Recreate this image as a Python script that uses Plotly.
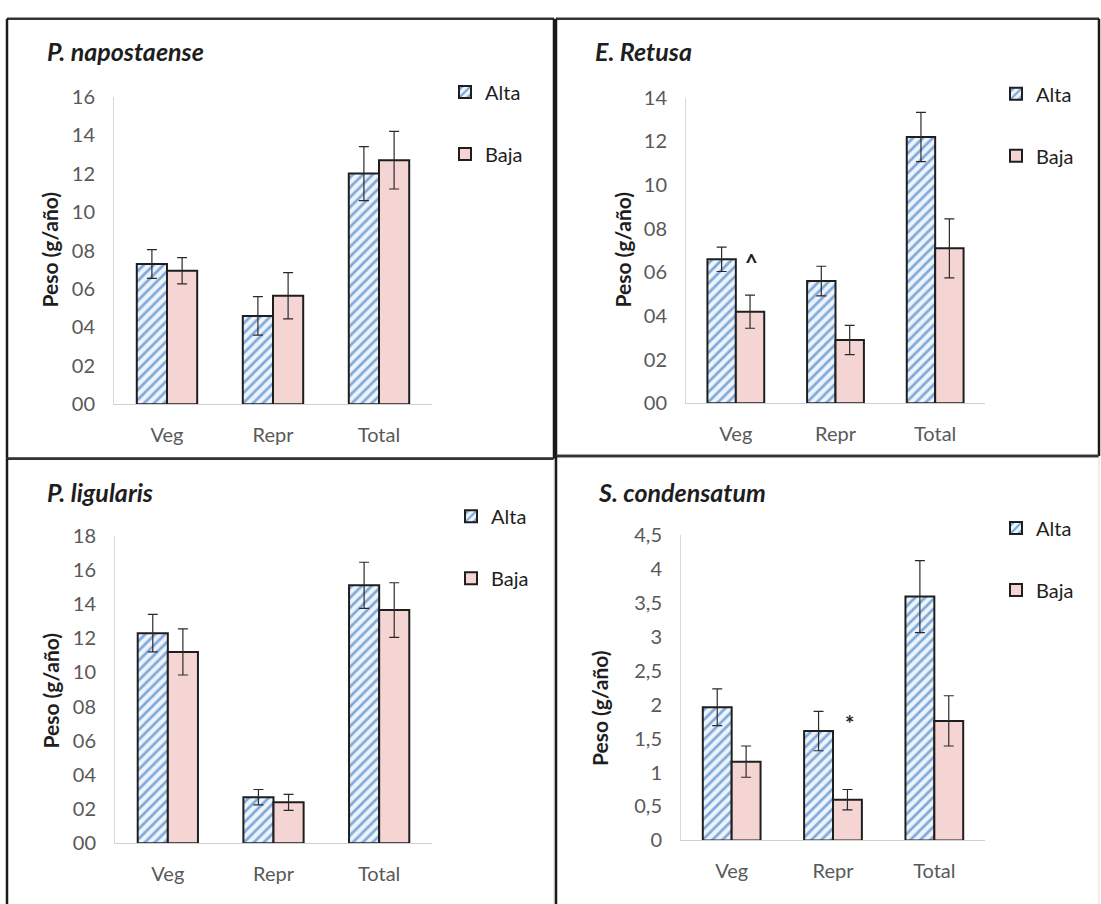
import plotly.graph_objects as go

W, H = 1101, 904

categories = ["Veg", "Repr", "Total"]
series_names = ["Alta", "Baja"]

titles = ["P. napostaense", "E. Retusa", "P. ligularis", "S. condensatum"]

alta_vals = [
    [7.3, 4.6, 12.0],
    [6.6, 5.6, 12.2],
    [12.3, 2.7, 15.1],
    [1.96, 1.61, 3.59],
]
alta_err = [
    [0.75, 1.0, 1.4],
    [0.56, 0.68, 1.13],
    [1.1, 0.45, 1.35],
    [0.27, 0.29, 0.53],
]
baja_vals = [
    [6.95, 5.65, 12.7],
    [4.2, 2.9, 7.1],
    [11.2, 2.4, 13.65],
    [1.16, 0.60, 1.76],
]
baja_err = [
    [0.68, 1.2, 1.5],
    [0.76, 0.67, 1.35],
    [1.35, 0.47, 1.6],
    [0.23, 0.15, 0.37],
]

tickvals = [
    [0, 2, 4, 6, 8, 10, 12, 14, 16],
    [0, 2, 4, 6, 8, 10, 12, 14],
    [0, 2, 4, 6, 8, 10, 12, 14, 16, 18],
    [0, 0.5, 1, 1.5, 2, 2.5, 3, 3.5, 4, 4.5],
]
ticktext = [
    ["00", "02", "04", "06", "08", "10", "12", "14", "16"],
    ["00", "02", "04", "06", "08", "10", "12", "14"],
    ["00", "02", "04", "06", "08", "10", "12", "14", "16", "18"],
    ["0", "0,5", "1", "1,5", "2", "2,5", "3", "3,5", "4", "4,5"],
]
y_max = [16, 14, 18, 4.5]

# significance marks: (panel, category, text, y value)
sig_marks = [(1, "Veg", "^", 6.45), (3, "Repr", "*", 1.72)]

y_title = "Peso (g/año)"

# layout in pixels
plot_px = [  # x0, x1, ytop, ybottom
    (114, 432, 86, 402),
    (686, 985, 87, 401),
    (115, 432, 537, 853),
    (681, 985, 536, 850),
]
title_px = [(45, 39), (593, 39), (45, 492), (596, 492)]
ytitle_px = [(50, 243), (623, 243), (51, 696), (599, 714)]
legend_px = [(445, 61), (996, 63), (451, 497), (996, 509)]
# panel borders: x0, x1, ytop, ybottom, draw bottom?
panel_px = [(7, 554, 6, 458, True), (556, 1099, 6, 455, True),
            (7, 554, 458, 930, False), (556, 1099, 455, 930, False)]

FONT = "Lato"
TXT = "#595959"


def px_x(x):
    return x / W


def px_y(y):
    return 1 - y / H


fig = go.Figure()
layout = dict(
    width=W, height=H, autosize=False,
    margin=dict(l=0, r=0, t=0, b=0),
    paper_bgcolor="white", plot_bgcolor="white",
    bargap=0.43, bargroupgap=0,
    barmode="group",
    font=dict(family=FONT, color=TXT),
    shapes=[], annotations=[],
)


def seg(x0, y0, x1, y1, color, width):
    return dict(type="line", xref="paper", yref="paper",
                x0=px_x(x0), x1=px_x(x1), y0=px_y(y0), y1=px_y(y1),
                line=dict(color=color, width=width), layer="above")


for i in range(4):
    sfx = "" if i == 0 else str(i + 1)
    xa, ya = "x" + sfx, "y" + sfx
    leg = "legend" + sfx
    x0, x1, yt, yb = plot_px[i]
    for name, vals, errs, style in [
        ("Alta", alta_vals[i], alta_err[i], "alta"),
        ("Baja", baja_vals[i], baja_err[i], "baja"),
    ]:
        if style == "alta":
            marker = dict(
                color="#EEF4FB",
                line=dict(color="#1E1E1E", width=2),
                pattern=dict(shape="/", fgcolor="#7FA8DA", bgcolor="#EEF4FB",
                             size=7, solidity=0.38, fillmode="replace"),
            )
        else:
            marker = dict(color="#F5D5D4", line=dict(color="#1E1E1E", width=2))
        fig.add_trace(go.Bar(
            x=categories, y=vals, name=name, marker=marker,
            error_y=dict(type="data", array=errs, visible=True,
                         color="#2A2A2A", thickness=1.2, width=5),
            xaxis=xa, yaxis=ya, legend=leg, legendgroup=name + sfx,
            showlegend=True,
        ))
    layout["xaxis" + sfx] = dict(
        domain=[px_x(x0), px_x(x1)], anchor=ya,
        showline=True, linecolor="#CFCFCF", linewidth=1,
        showgrid=False, zeroline=False,
        ticks="outside", ticklen=13, tickcolor="rgba(0,0,0,0)",
        tickfont=dict(family=FONT, size=20, color=TXT),
        fixedrange=True,
    )
    layout["yaxis" + sfx] = dict(
        domain=[px_y(yb), px_y(yt)], anchor=xa,
        range=[0, y_max[i]],
        showline=True, linecolor="#D9D9D9", linewidth=1,
        showgrid=False, zeroline=False,
        tickvals=tickvals[i], ticktext=ticktext[i],
        ticks="outside", ticklen=14, tickcolor="rgba(0,0,0,0)",
        tickfont=dict(family=FONT, size=20, color=TXT),
        fixedrange=True,
    )
    lx, ly = legend_px[i]
    layout[leg] = dict(
        x=px_x(lx), y=px_y(ly), xanchor="left", yanchor="top",
        traceorder="grouped", tracegroupgap=33,
        font=dict(family=FONT, size=20, color="#1E1E1E"),
        bgcolor="rgba(0,0,0,0)",
    )
    tx, ty = title_px[i]
    layout["annotations"].append(dict(
        x=px_x(tx), y=px_y(ty), xref="paper", yref="paper",
        xanchor="left", yanchor="middle", showarrow=False,
        text="<b><i>" + titles[i] + "</i></b>",
        font=dict(family=FONT, size=25, color="#1E1E1E"),
    ))
    yx, yy = ytitle_px[i]
    layout["annotations"].append(dict(
        x=px_x(yx), y=px_y(yy), xref="paper", yref="paper",
        xanchor="center", yanchor="middle", showarrow=False,
        textangle=-90, text="<b>" + y_title + "</b>",
        font=dict(family=FONT, size=21, color="#1E1E1E"),
    ))
    bx0, bx1, by0, by1, bottom = panel_px[i]
    layout["shapes"].append(seg(bx0, by0, bx1, by0, "#333333", 2.5))
    layout["shapes"].append(seg(bx0, by0, bx0, by1, "#1A1A1A", 2.5))
    right_col = "#1A1A1A" if bottom else "#DDDDDD"
    layout["shapes"].append(seg(bx1, by0, bx1, by1, right_col, 2.5 if bottom else 1))
    if bottom:
        layout["shapes"].append(seg(bx0, by1, bx1, by1, "#1A1A1A", 2.5))

for panel, cat, txt, yv in sig_marks:
    sfx = "" if panel == 0 else str(panel + 1)
    layout["annotations"].append(dict(
        x=cat, y=yv, xref="x" + sfx, yref="y" + sfx, xshift=16,
        text="<b>" + txt + "</b>", showarrow=False,
        font=dict(family=FONT, size=22, color="#1E1E1E"),
    ))

fig.update_layout(**layout)
fig.write_html("out.html")
